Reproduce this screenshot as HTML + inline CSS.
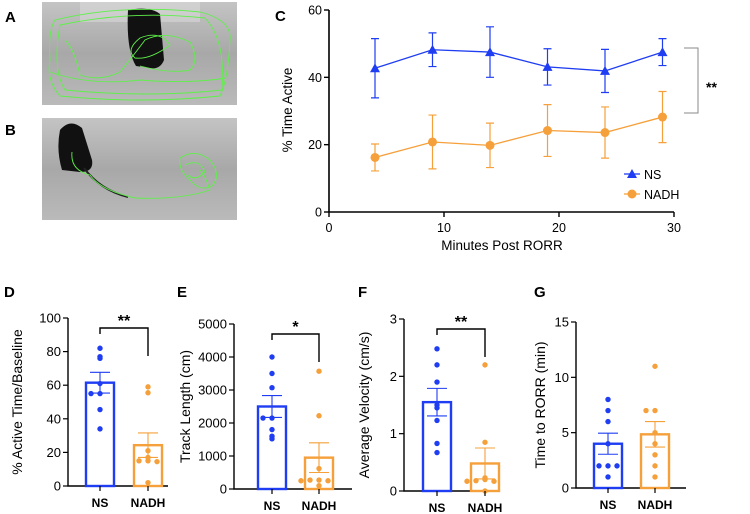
<!DOCTYPE html>
<html><head><meta charset="utf-8">
<style>
html,body{margin:0;padding:0;background:#fff;}
svg{display:block;font-family:"Liberation Sans",Arial,sans-serif;}
</style></head>
<body>
<svg id="fig" width="750" height="514" viewBox="0 0 750 514">
<defs>
<linearGradient id="gA" x1="0" y1="0" x2="0" y2="1"><stop offset="0" stop-color="#c4c4c4"/><stop offset="0.5" stop-color="#a8a8a8"/><stop offset="1" stop-color="#bababa"/></linearGradient>
</defs>
<g>
<rect x="42" y="2" width="195" height="103" fill="url(#gA)"/>
<rect x="80" y="2" width="120" height="20" fill="#dedede" opacity="0.5"/>
<path d="M128 10 Q150 6 160 14 L164 60 Q160 70 150 68 L136 66 Q126 50 128 10Z" fill="#111"/>
<g fill="none" stroke="#5ff04a" stroke-width="0.9">
<path d="M55 20 Q120 4 200 12 Q232 20 230 40 Q228 80 220 96 Q140 104 60 96 Q46 80 50 60 Q48 30 55 20Z"/>
<path d="M60 25 Q130 10 205 18 Q226 40 222 90 Q150 98 65 90 Q52 70 60 25Z"/>
<path d="M65 40 Q74 48 80 75 Q100 82 120 72 Q130 60 145 40 Q165 30 190 42 Q200 60 190 70 Q170 74 140 66"/>
<path d="M50 72 Q90 86 140 80 Q190 84 226 78"/>
<path d="M140 38 Q160 30 170 45 Q150 60 135 58 Q125 50 140 38Z"/>
</g>
<text x="5" y="22" font-size="15" font-weight="bold" fill="#000">A</text>
</g>
<g>
<rect x="42" y="118" width="195" height="102" fill="url(#gA)"/>
<path d="M60 130 Q70 118 82 128 L92 160 Q94 172 80 172 L62 170 Q56 150 60 130Z" fill="#111"/>
<path d="M84 168 Q100 190 128 197" fill="none" stroke="#222" stroke-width="2"/>
<g fill="none" stroke="#5ff04a" stroke-width="0.9">
<path d="M72 152 Q70 170 90 175 Q100 190 135 198 Q180 200 210 190 Q205 175 200 170"/>
<path d="M180 158 Q195 148 210 160 Q222 175 212 186 Q200 192 190 180 Q178 170 180 158Z"/>
<path d="M185 165 Q200 158 205 172 Q195 182 188 175"/>
</g>
<text x="5" y="135" font-size="15" font-weight="bold" fill="#000">B</text>
</g>
<g id="panelC"></g>
<g id="panelD"></g>
<g id="panelE"></g>
<g id="panelF"></g>
<g id="panelG"></g>
</svg>
<script>
// ---- Panel C data ----
const cMinutes = [4, 9, 14, 19, 24, 29];
const cNS = [42.7, 48.2, 47.5, 43.1, 41.9, 47.5];
const cNSerr = [8.8, 5, 7.5, 5.4, 6.4, 4];
const cNADH = [16.2, 20.8, 19.8, 24.2, 23.6, 28.2];
const cNADHerr = [4, 8, 6.6, 7.7, 7.6, 7.6];
const cYTicks = [0, 20, 40, 60];
const cXTicks = [0, 10, 20, 30];
// ---- Bar panels data ----
const groups = ["NS", "NADH"];
const dMeans = [61.5, 24.3];
const dSem = [6.2, 7.3];
const dNSpts = [82, 77, 76, 61, 55, 55, 45.5, 34];
const dNADHpts = [59, 55.5, 21, 17, 15, 15, 14.5, 2];
const dTicks = [0, 20, 40, 60, 80, 100];
const eMeans = [2500, 950];
const eSem = [330, 450];
const eNSpts = [4000, 3500, 3070, 2150, 2150, 1800, 1600, 1520];
const eNADHpts = [3570, 2220, 620, 270, 270, 250, 100, 250];
const eTicks = [0, 1000, 2000, 3000, 4000, 5000];
const fMeans = [1.55, 0.48];
const fSem = [0.24, 0.27];
const fNSpts = [2.48, 2.2, 1.9, 1.5, 1.45, 1.23, 0.83, 0.67];
const fNADHpts = [2.2, 0.85, 0.23, 0.2, 0.18, 0.17, 0.17, 0.0];
const fTicks = [0, 1, 2, 3];
const gMeans = [4, 4.85];
const gSem = [0.95, 1.15];
const gNSpts = [8, 7, 6, 4, 2, 2, 2, 1];
const gNADHpts = [11, 7, 7, 5, 4, 3, 2, 1];
const gTicks = [0, 5, 10, 15];

const NS = "#1f3df2", NA = "#f5a03a";
const SVGNS = "http://www.w3.org/2000/svg";
function mk(parent, tag, attrs, text) {
  const e = document.createElementNS(SVGNS, tag);
  for (const k in attrs) e.setAttribute(k, attrs[k]);
  if (text !== undefined) e.textContent = text;
  parent.appendChild(e);
  return e;
}

// ---- Panel C ----
(function () {
  const g = document.getElementById("panelC");
  const x = v => 329 + (v / 30) * 345;
  const y = v => 212 - (v / 60) * 202;
  let t = mk(g, "text", {x: 275, y: 21, "font-size": 15, "font-weight": "bold"}, "C");
  
  
  let ax = mk(g, "path", {d: `M${x(0)} ${y(60)} V${y(0)} H${x(30)}`, fill: "none", stroke: "#000", "stroke-width": 1.6});
  
  
  cYTicks.forEach(v => {
    const tk = mk(g, "line", {x1: x(0) - 5, x2: x(0), y1: y(v), y2: y(v), stroke: "#000", "stroke-width": 1.4});
    
    
    const l = mk(g, "text", {x: x(0) - 7, y: y(v) + 4.5, "font-size": 12.5, "text-anchor": "end"}, v);
    
    
  });
  cXTicks.forEach(v => {
    const tk = mk(g, "line", {x1: x(v), x2: x(v), y1: y(0), y2: y(0) + 5, stroke: "#000", "stroke-width": 1.4});
    
    
    const l = mk(g, "text", {x: x(v), y: y(0) + 20, "font-size": 12.5, "text-anchor": "middle"}, v);
    
    
  });
  t = mk(g, "text", {x: 502, y: 250, "font-size": 13.5, "text-anchor": "middle"}, "Minutes Post RORR");
  
  
  t = mk(g, "text", {x: 0, y: 0, "font-size": 13.5, "text-anchor": "middle", transform: "translate(292,110) rotate(-90)"}, "% Time Active");
  
  
  function series(vals, errs, col, tri, name) {
    const sg = mk(g, "g", {});
    
    
    vals.forEach((v, i) => {
      const cx = x(cMinutes[i]);
      const e = mk(sg, "path", {d: `M${cx} ${y(v - errs[i])} V${y(v + errs[i])} M${cx - 4} ${y(v - errs[i])} H${cx + 4} M${cx - 4} ${y(v + errs[i])} H${cx + 4}`, stroke: col, "stroke-width": 1.2, fill: "none"});
      
      
    });
    const ln = mk(sg, "polyline", {points: vals.map((v, i) => x(cMinutes[i]) + "," + y(v)).join(" "), fill: "none", stroke: col, "stroke-width": 1.3});
    
    
    vals.forEach((v, i) => {
      const cx = x(cMinutes[i]), cy = y(v);
      const m = tri ? mk(sg, "path", {d: `M${cx} ${cy - 5} L${cx + 5} ${cy + 4} L${cx - 5} ${cy + 4}Z`, fill: col})
                    : mk(sg, "circle", {cx: cx, cy: cy, r: 4.5, fill: col});
      
      
    });
  }
  series(cNS, cNSerr, NS, true, "ns");
  series(cNADH, cNADHerr, NA, false, "nadh");
  const br = mk(g, "path", {d: "M684 48 H698 V113 H684", fill: "none", stroke: "#888", "stroke-width": 1});
  
  
  t = mk(g, "text", {x: 706, y: 92, "font-size": 14, "font-weight": "bold"}, "**");
  
  
  const lg = mk(g, "g", {});
  
  
  let le = mk(lg, "g", {});
  
  
  mk(le, "line", {x1: 624, x2: 640, y1: 174, y2: 174, stroke: NS, "stroke-width": 1.3});
  mk(le, "path", {d: "M632 169 L637 178 L627 178Z", fill: NS});
  mk(le, "text", {x: 644, y: 179, "font-size": 12.5}, "NS");
  le = mk(lg, "g", {});
  
  
  mk(le, "line", {x1: 624, x2: 640, y1: 194, y2: 194, stroke: NA, "stroke-width": 1.3});
  mk(le, "circle", {cx: 632, cy: 194, r: 4.5, fill: NA});
  mk(le, "text", {x: 644, y: 199, "font-size": 12.5}, "NADH");
})();

// ---- Bar panels ----
function barPanel(id, letter, lx, ax0, y0, ytop, xEnd, max, ticks, means, sems, ptsNS, ptsNA, title, titleX, sig, cNSx, cNAx) {
  const g = document.getElementById(id);
  const y = v => y0 - (v / max) * (y0 - ytop);
  const cx = [cNSx, cNAx];
  let t = mk(g, "text", {x: lx, y: 297, "font-size": 15, "font-weight": "bold"}, letter);
  
  
  const a = mk(g, "path", {d: `M${ax0} ${ytop} V${y0} H${xEnd}`, fill: "none", stroke: "#000", "stroke-width": 1.4});
  
  
  ticks.forEach(v => {
    const tk = mk(g, "line", {x1: ax0 - 5, x2: ax0, y1: y(v), y2: y(v), stroke: "#000", "stroke-width": 1.2});
    
    
    const l = mk(g, "text", {x: ax0 - 7, y: y(v) + 4.5, "font-size": 13, "text-anchor": "end"}, v);
    
    
  });
  t = mk(g, "text", {x: 0, y: 0, "font-size": 14, "text-anchor": "middle", transform: `translate(${titleX},${(y0 + ytop) / 2}) rotate(-90)`}, title);
  
  
  const cols = [NS, NA];
  [ptsNS, ptsNA].forEach((pts, i) => {
    const c = cx[i], col = cols[i];
    const b = mk(g, "rect", {x: c - 14, y: y(means[i]), width: 28, height: y0 - y(means[i]), fill: "#fff", stroke: col, "stroke-width": 2.4});
    
    
    const e = mk(g, "path", {d: `M${c} ${y(means[i] - sems[i])} V${y(means[i] + sems[i])} M${c - 10} ${y(means[i] + sems[i])} H${c + 10} M${c - 10} ${y(means[i] - sems[i])} H${c + 10}`, stroke: col, "stroke-width": 1.1, fill: "none"});
    
    
    const seen = {};
    pts.forEach(v => {
      const k = Math.round(y(v) / 4);
      seen[k] = (seen[k] || 0) + 1;
      const n = seen[k];
      const off = n === 1 ? 0 : (n % 2 === 0 ? -1 : 1) * Math.ceil((n - 1) / 2) * 9;
      const d = mk(g, "circle", {cx: c + off, cy: y(v), r: 2.7, fill: col});
      
      
    });
    const l = mk(g, "text", {x: c, y: y0 + 21, "font-size": 12, "font-weight": "bold", "text-anchor": "middle"}, groups[i]);
    
    
    const tk = mk(g, "line", {x1: c, x2: c, y1: y0, y2: y0 + 5, stroke: "#000", "stroke-width": 1.2});
    
    
  });
  if (sig) {
    const top = ytop + 10;
    const br = mk(g, "path", {d: `M${cNSx} ${top + 6} V${top} H${cNAx} V${top + 28}`, fill: "none", stroke: "#000", "stroke-width": 1.4});
    
    
    const s = mk(g, "text", {x: (cNSx + cNAx) / 2, y: top - 2, "font-size": 16, "font-weight": "bold", "text-anchor": "middle"}, sig);
    
    
  }
}
barPanel("panelD", "D", 4, 68, 486, 318, 168, 100, dTicks, dMeans, dSem, dNSpts, dNADHpts, "% Active Time/Baseline", 22, "**", 100, 148);
barPanel("panelE", "E", 177, 234, 489, 324, 352, 5000, eTicks, eMeans, eSem, eNSpts, eNADHpts, "Track Length (cm)", 190, "*", 272, 319);
barPanel("panelF", "F", 358, 404, 491, 319, 500, 3, fTicks, fMeans, fSem, fNSpts, fNADHpts, "Average Velocity (cm/s)", 369, "**", 437, 485);
barPanel("panelG", "G", 534, 576, 488, 322, 686, 15, gTicks, gMeans, gSem, gNSpts, gNADHpts, "Time to RORR (min)", 545, null, 608, 655);
</script>
</body></html>
